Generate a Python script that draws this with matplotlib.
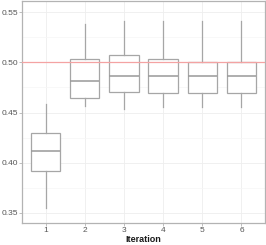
import matplotlib
matplotlib.use("Agg")
import matplotlib.pyplot as plt
from matplotlib.ticker import MultipleLocator

iterations = ["1", "2", "3", "4", "5", "6"]
whisker_low = [0.355, 0.4565, 0.4535, 0.4555, 0.4555, 0.4555]
q1 = [0.392, 0.4642, 0.4702, 0.470, 0.470, 0.470]
median = [0.412, 0.4814, 0.4867, 0.4864, 0.4864, 0.4864]
q3 = [0.430, 0.503, 0.507, 0.503, 0.5004, 0.5004]
whisker_high = [0.459, 0.538, 0.5413, 0.5413, 0.541, 0.541]
reference_value = 0.5

fam = ['Liberation Sans Narrow', 'Liberation Sans', 'DejaVu Sans']

fig = plt.figure(figsize=(2.66, 2.45), dpi=100)
ax = fig.add_axes([22/266, 1 - 222.7/245, (265-22)/266, (222.7-1)/245])

stats = []
for i in range(len(iterations)):
    stats.append(dict(med=median[i], q1=q1[i], q3=q3[i],
                      whislo=whisker_low[i], whishi=whisker_high[i],
                      fliers=[], label=iterations[i]))

box_color = '#a6a6a6'
ax.bxp(stats, positions=range(1, len(iterations)+1), widths=0.75,
       patch_artist=True, showfliers=False, showcaps=False,
       boxprops=dict(facecolor='white', edgecolor=box_color, linewidth=0.9),
       whiskerprops=dict(color=box_color, linewidth=0.9),
       medianprops=dict(color='#999999', linewidth=1.1),
       zorder=3)

ax.axhline(reference_value, color='#f4a3a3', linewidth=0.9, zorder=4)

ax.set_xlim(0.4, 6.6)
ax.set_ylim(0.3401, 0.5613)
ax.yaxis.set_major_locator(MultipleLocator(0.05))
ax.yaxis.set_minor_locator(MultipleLocator(0.025))
ax.set_xticks(range(1, 7))
ax.set_xticklabels(iterations)
ax.set_yticklabels([f"{v:.2f}" for v in ax.get_yticks()])

ax.grid(True, which='major', color='#eeeeee', linewidth=0.6, zorder=0)
ax.grid(True, which='minor', axis='y', color='#f6f6f6', linewidth=0.5, zorder=0)
ax.set_axisbelow(True)

for s in ax.spines.values():
    s.set_color('#b3b3b3')
    s.set_linewidth(0.9)

ax.tick_params(axis='both', which='major', length=2, width=0.6, color='#b3b3b3',
               labelsize=6, labelcolor='#555555', pad=1)
ax.tick_params(axis='y', which='minor', length=0)
for lab in ax.get_xticklabels() + ax.get_yticklabels():
    lab.set_family(fam)

fig.text((22 + 243/2)/266, 1 - 239/245, "Iteration", fontsize=6.5, fontweight='bold',
         family=fam, ha='center', va='center', color='#1a1a1a')

fig.savefig("out.png", dpi=100)
